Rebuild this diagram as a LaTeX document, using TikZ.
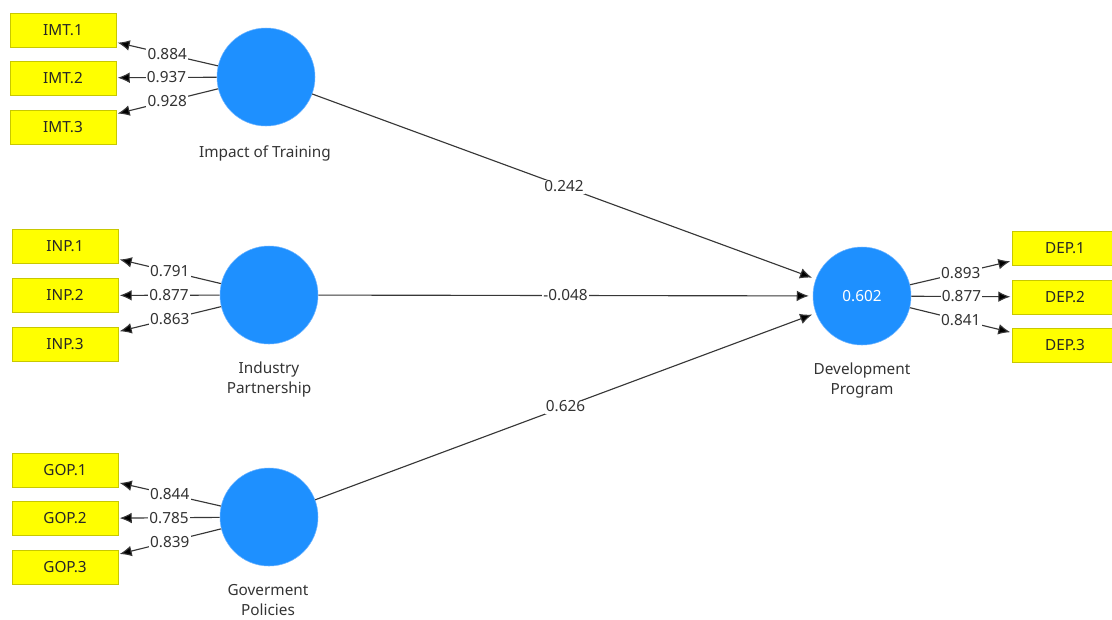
\documentclass[tikz,border=0pt]{standalone}
\usepackage{fontspec}
\setmainfont{Noto Sans}
\usetikzlibrary{arrows.meta}
\definecolor{lv}{RGB}{30,144,255}
\definecolor{lvb}{RGB}{110,180,255}
\definecolor{ind}{RGB}{255,255,0}
\definecolor{indb}{RGB}{200,200,0}
\definecolor{ln}{RGB}{55,55,55}
\begin{document}
\begin{tikzpicture}[x=0.75pt,y=-0.75pt,
  every node/.style={font=\fontsize{11.5}{15}\selectfont, text=black!85},
  latent/.style={circle, fill=lv, draw=lvb, line width=0.4pt, minimum size=73.5pt, inner sep=0pt},
  indic/.style={rectangle, fill=ind, draw=indb, line width=0.6pt, minimum width=79.5pt, minimum height=25.5pt, inner sep=0pt},
  lvlabel/.style={align=center, text=black!80},
  conn/.style={draw=ln, line width=0.85pt, -{Latex[length=9pt,width=8pt,fill=black]}, shorten >=1pt},
  wt/.style={midway, fill=white, inner sep=1pt, text=black!80}
]
\useasboundingbox (0,0) rectangle (1112,619);
\clip (0,0) rectangle (1112,619);

% latent variables
\node[latent] (IMT) at (266,77) {};
\node[latent] (INP) at (269,295) {};
\node[latent] (GOP) at (269,517) {};
\node[latent] (DEP) at (862,296) {\textcolor{white}{0.602}};

\node[lvlabel] (IMTl) at (265,153) {Impact of Training};
\node[lvlabel] (INPl) at (269,380) {Industry\\Partnership};
\node[lvlabel] (GOPl) at (268,600) {Goverment\\Policies};
\node[lvlabel] (DEPl) at (862,381) {Development\\Program};

% indicators
\node[indic] (IMT1) at (63,30) {IMT.1};
\node[indic] (IMT2) at (63,78) {IMT.2};
\node[indic] (IMT3) at (63,127) {IMT.3};
\node[indic] (INP1) at (65,246.5) {INP.1};
\node[indic] (INP2) at (65,295.5) {INP.2};
\node[indic] (INP3) at (65,344.5) {INP.3};
\node[indic] (GOP1) at (65,470.5) {GOP.1};
\node[indic] (GOP2) at (65,518.5) {GOP.2};
\node[indic] (GOP3) at (65,567.5) {GOP.3};
\node[indic] (DEP1) at (1065,248.5) {DEP.1};
\node[indic] (DEP2) at (1065,297) {DEP.2};
\node[indic] (DEP3) at (1065,345.5) {DEP.3};

% outer loadings
\draw[conn] (IMT) -- (IMT1) node[wt] {0.884};
\draw[conn] (IMT) -- (IMT2) node[wt] {0.937};
\draw[conn] (IMT) -- (IMT3) node[wt] {0.928};
\draw[conn] (INP) -- (INP1) node[wt] {0.791};
\draw[conn] (INP) -- (INP2) node[wt] {0.877};
\draw[conn] (INP) -- (INP3) node[wt] {0.863};
\draw[conn] (GOP) -- (GOP1) node[wt] {0.844};
\draw[conn] (GOP) -- (GOP2) node[wt] {0.785};
\draw[conn] (GOP) -- (GOP3) node[wt] {0.839};
\draw[conn] (DEP) -- (DEP1) node[wt] {0.893};
\draw[conn] (DEP) -- (DEP2) node[wt] {0.877};
\draw[conn] (DEP) -- (DEP3) node[wt] {0.841};

% path coefficients
\draw[conn, shorten >=3pt] (IMT) -- (DEP) node[wt] {0.242};
\draw[conn, shorten >=3pt] (INP) -- (DEP) node[wt] {-0.048};
\draw[conn, shorten >=3pt] (GOP) -- (DEP) node[wt] {0.626};
\end{tikzpicture}
\end{document}
